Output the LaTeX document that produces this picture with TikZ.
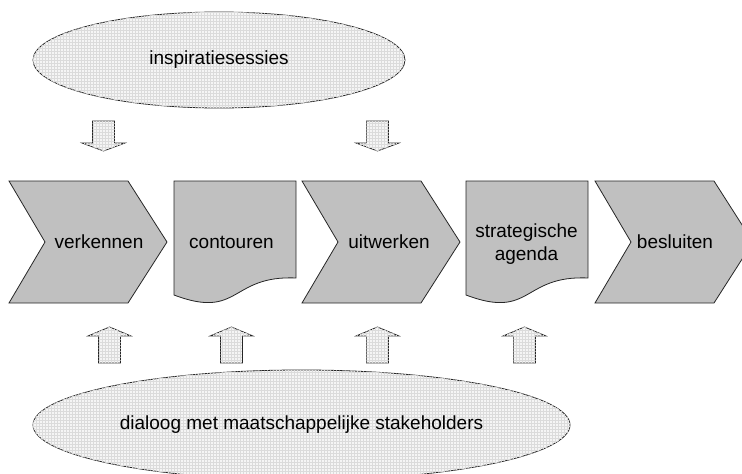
\documentclass[tikz,border=0pt]{standalone}
\usepackage{fontspec}
\setmainfont{Liberation Sans}
\usetikzlibrary{shapes.geometric,patterns}
\definecolor{chev}{HTML}{C0C0C0}
\begin{document}
\begin{tikzpicture}[x=1pt,y=-1pt,
  shp/.style={draw=black!85, line width=0.8pt, fill=chev, line join=miter},
  tex/.style={draw=black!85, line width=0.8pt, fill=black!4, postaction={pattern=grid, pattern color=black!14}},
  lbl/.style={font=\fontsize{19}{23}\selectfont, align=center, inner sep=0pt},
  downarr/.pic={\draw[tex] (-11,0)--(11,0)--(11,22)--(21.5,22)--(0,30)--(-21.5,22)--(-11,22)--cycle;},
  uparr/.pic={\draw[tex] (0,0)--(21.5,9)--(11,9)--(11,36)--(-11,36)--(-11,9)--(-21.5,9)--cycle;}]
\useasboundingbox (0,0) rectangle (742,474);
% top ellipse
\node[ellipse, tex, minimum width=372pt, minimum height=96pt, lbl] (insp) at (219,60) {inspiratiesessies};
% down arrows
\pic at (103.5,121) {downarr};
\pic at (377.5,121) {downarr};
% process shapes
\draw[shp] (9,181)--(128,181)--(167,242)--(128,303)--(9,303)--(45,242)--cycle;
\draw[shp] (174,181)--(296,181)--(296,278) .. controls (230,275) and (240,320) .. (174,295)--cycle;
\draw[shp] (302,181)--(421,181)--(460,242)--(421,303)--(302,303)--(338,242)--cycle;
\draw[shp] (466,181)--(588,181)--(588,278) .. controls (522,275) and (532,320) .. (466,295)--cycle;
\draw[shp] (595,181)--(714,181)--(753,242)--(714,303)--(595,303)--(631,242)--cycle;
\node[lbl] (verk) at (99,242) {verkennen};
\node[lbl] (cont) at (231.5,242) {contouren};
\node[lbl] (uitw) at (389,242) {uitwerken};
\node[lbl] (stra) at (526.5,244) {strategische\\agenda};
\node[lbl] (besl) at (675,242) {besluiten};
% up arrows
\pic at (109.5,327) {uparr};
\pic at (231.5,327) {uparr};
\pic at (377.5,327) {uparr};
\pic at (524.5,327) {uparr};
% bottom ellipse
\node[ellipse, tex, minimum width=537pt, minimum height=110pt, lbl] (dial) at (301.5,425) {dialoog met maatschappelijke stakeholders};
\end{tikzpicture}
\end{document}
